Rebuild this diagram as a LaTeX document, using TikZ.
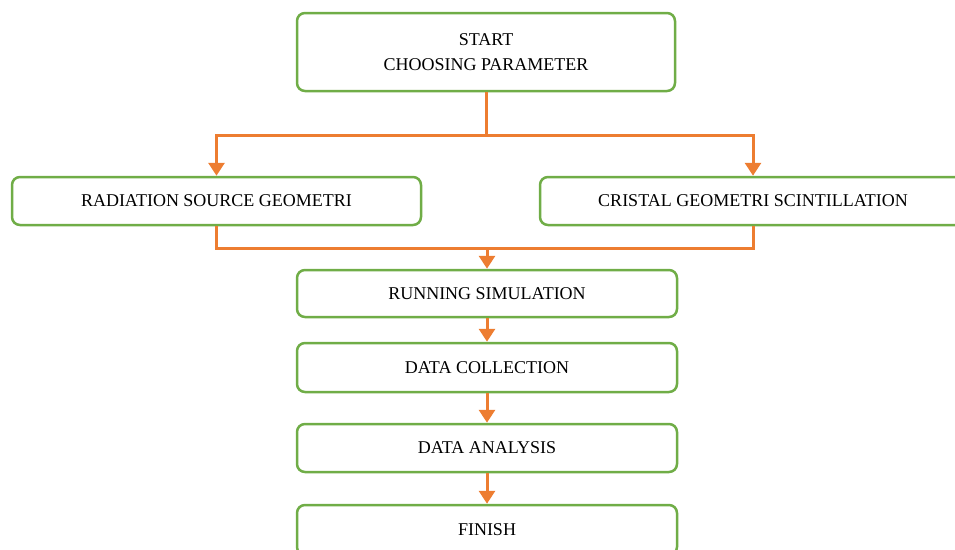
\documentclass[tikz,border=0pt]{standalone}
\usepackage{fontspec}
\setmainfont{Liberation Serif}
\usetikzlibrary{arrows.meta}

\definecolor{boxgreen}{RGB}{112,173,71}
\definecolor{linkorange}{RGB}{237,125,49}

\begin{document}
\begin{tikzpicture}[x=1pt, y=-1pt,
    stepbox/.style={draw=boxgreen, line width=2.5pt, rounded corners=8pt, fill=white,
        inner sep=0pt, font=\fontsize{18}{25}\selectfont, align=center},
    link/.style={draw=linkorange, line width=3pt},
    linkarrow/.style={link, -{Triangle[width=16pt, length=13pt]}}]
    \useasboundingbox (0, 0) rectangle (955, 549);
    \clip (0, 0) rectangle (955, 549);

    \node[stepbox, minimum width=378pt, minimum height=78pt] (start) at (486, 52) {START\\CHOOSING PARAMETER};
    \node[stepbox, minimum width=409pt, minimum height=48pt] (source) at (216.5, 201) {RADIATION SOURCE GEOMETRI};
    \node[stepbox, minimum width=426pt, minimum height=48pt] (cristal) at (753, 201) {CRISTAL GEOMETRI SCINTILLATION};
    \node[stepbox, minimum width=380pt, minimum height=47pt] (running) at (487, 293.5) {RUNNING SIMULATION};
    \node[stepbox, minimum width=380pt, minimum height=49pt] (collection) at (487, 367.5) {DATA COLLECTION};
    \node[stepbox, minimum width=380pt, minimum height=48pt] (analysis) at (487, 448) {DATA ANALYSIS};
    \node[stepbox, minimum width=380pt, minimum height=50pt] (finish) at (487, 530) {FINISH};

    \coordinate (split) at (486, 135);
    \coordinate (join) at (487, 248);

    \draw[link] (start.south) -- (split);
    \draw[linkarrow] (split) -| (source.north);
    \draw[linkarrow] (split) -| (cristal.north);
    \draw[link] (source.south) |- (join) -| (cristal.south);
    \draw[linkarrow] (join) -- (running.north);
    \draw[linkarrow] (running) -- (collection);
    \draw[linkarrow] (collection) -- (analysis);
    \draw[linkarrow] (analysis) -- (finish);
\end{tikzpicture}
\end{document}
